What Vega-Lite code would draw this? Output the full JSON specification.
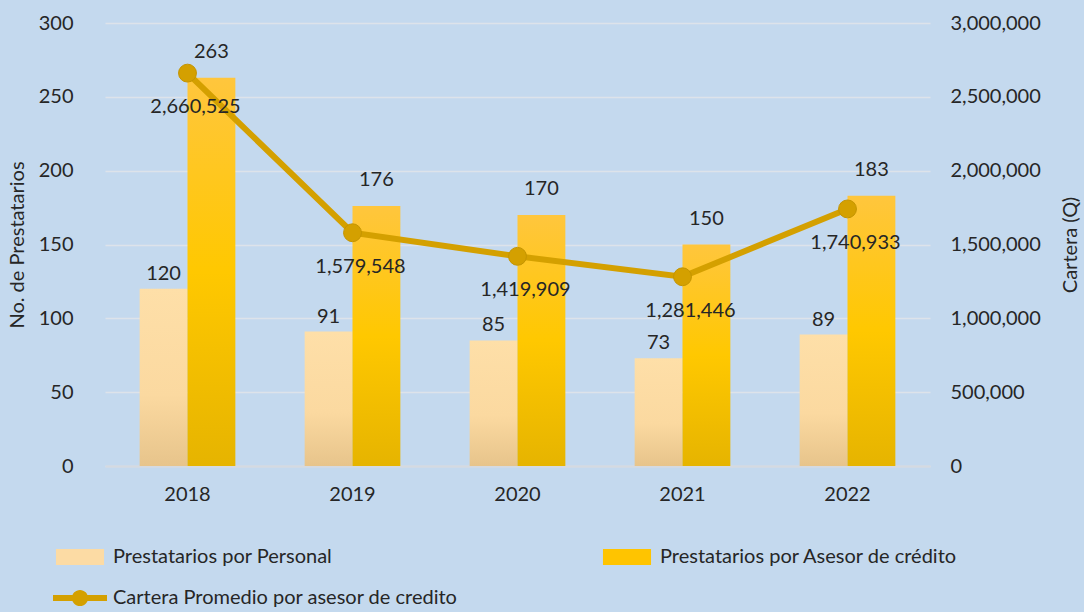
{
  "$schema": "https://vega.github.io/schema/vega-lite/v6.json",
  "width": 825,
  "height": 443,
  "autosize": "none",
  "padding": {"left": 105, "top": 23, "right": 154, "bottom": 146},
  "background": "#C4D9EE",
  "config": {
    "view": {"stroke": null},
    "font": "Lato",
    "axis": {"labelFont": "Lato", "titleFont": "Lato", "labelFontSize": 20, "titleFontSize": 20, "labelColor": "#262626", "titleColor": "#262626", "titleFontWeight": "normal"}
  },
  "data": {
    "values": [
      {"anio": "2018", "serie": "Prestatarios por Personal", "valor": 120},
      {"anio": "2019", "serie": "Prestatarios por Personal", "valor": 91},
      {"anio": "2020", "serie": "Prestatarios por Personal", "valor": 85},
      {"anio": "2021", "serie": "Prestatarios por Personal", "valor": 73},
      {"anio": "2022", "serie": "Prestatarios por Personal", "valor": 89},
      {"anio": "2018", "serie": "Prestatarios por Asesor de crédito", "valor": 263},
      {"anio": "2019", "serie": "Prestatarios por Asesor de crédito", "valor": 176},
      {"anio": "2020", "serie": "Prestatarios por Asesor de crédito", "valor": 170},
      {"anio": "2021", "serie": "Prestatarios por Asesor de crédito", "valor": 150},
      {"anio": "2022", "serie": "Prestatarios por Asesor de crédito", "valor": 183},
      {"anio": "2018", "serie": "Cartera Promedio por asesor de credito", "valor": 2660525},
      {"anio": "2019", "serie": "Cartera Promedio por asesor de credito", "valor": 1579548},
      {"anio": "2020", "serie": "Cartera Promedio por asesor de credito", "valor": 1419909},
      {"anio": "2021", "serie": "Cartera Promedio por asesor de credito", "valor": 1281446},
      {"anio": "2022", "serie": "Cartera Promedio por asesor de credito", "valor": 1740933}
    ]
  },
  "layer": [
    {
      "transform": [{"filter": "datum.serie !== 'Cartera Promedio por asesor de credito'"}],
      "encoding": {
        "x": {"field": "anio", "type": "nominal", "scale": {"paddingInner": 0.42, "paddingOuter": 0.21},
              "axis": {"title": null, "labelAngle": 0, "labelPadding": 18, "ticks": false, "tickSize": 0, "domainColor": "#D5DAE0", "domainWidth": 2}},
        "xOffset": {"field": "serie", "type": "nominal", "scale": {"domain": ["Prestatarios por Personal", "Prestatarios por Asesor de crédito"], "paddingInner": 0, "paddingOuter": 0}},
        "y": {"field": "valor", "type": "quantitative", "scale": {"domain": [0, 300]},
              "axis": {"title": "No. de Prestatarios", "values": [0, 50, 100, 150, 200, 250, 300], "domain": false, "ticks": false, "tickSize": 0, "labelPadding": 32, "titlePadding": 11, "grid": true, "gridColor": "#DDE3EA", "gridWidth": 1.5}}
      },
      "layer": [
        {
          "transform": [{"filter": "datum.serie === 'Prestatarios por Personal'"}],
          "mark": {"type": "bar", "fill": {"gradient": "linear", "x1": 0, "y1": 0, "x2": 0, "y2": 1, "stops": [{"offset": 0, "color": "#FEDFA8"}, {"offset": 0.6, "color": "#FBD9A0"}, {"offset": 1, "color": "#E7C48B"}]}}
        },
        {
          "transform": [{"filter": "datum.serie === 'Prestatarios por Asesor de crédito'"}],
          "mark": {"type": "bar", "fill": {"gradient": "linear", "x1": 0, "y1": 0, "x2": 0, "y2": 1, "stops": [{"offset": 0, "color": "#FFC63D"}, {"offset": 0.5, "color": "#FFC800"}, {"offset": 1, "color": "#E6B400"}]}}
        },
        {
          "transform": [{"filter": "datum.serie === 'Prestatarios por Personal'"}],
          "mark": {"type": "text", "baseline": "bottom", "dy": -5, "fontSize": 20, "font": "Lato", "color": "#262626"},
          "encoding": {"text": {"field": "valor", "type": "quantitative"}}
        },
        {
          "transform": [{"filter": "datum.serie === 'Prestatarios por Asesor de crédito'"}],
          "mark": {"type": "text", "baseline": "bottom", "dy": -16, "fontSize": 20, "font": "Lato", "color": "#262626"},
          "encoding": {"text": {"field": "valor", "type": "quantitative"}}
        }
      ]
    },
    {
      "transform": [{"filter": "datum.serie === 'Cartera Promedio por asesor de credito'"}],
      "encoding": {
        "x": {"field": "anio", "type": "nominal", "scale": {"paddingInner": 0.42, "paddingOuter": 0.21},
              "axis": {"title": null, "labelAngle": 0, "labelPadding": 18, "ticks": false, "tickSize": 0, "domainColor": "#D5DAE0", "domainWidth": 2}},
        "y": {"field": "valor", "type": "quantitative", "scale": {"domain": [0, 3000000]},
              "axis": {"orient": "right", "title": "Cartera (Q)", "titleAngle": -90, "format": ",.0f", "values": [0, 500000, 1000000, 1500000, 2000000, 2500000, 3000000], "domain": false, "ticks": false, "tickSize": 0, "labelPadding": 20, "titlePadding": 40, "grid": false}}
      },
      "layer": [
        {"mark": {"type": "line", "color": "#D4A000", "strokeWidth": 6}},
        {"mark": {"type": "point", "filled": true, "opacity": 1, "size": 320, "color": "#D4A000", "stroke": "#C49400", "strokeWidth": 1}},
        {
          "mark": {"type": "text", "baseline": "middle", "dx": 8, "dy": 34, "fontSize": 20, "font": "Lato", "color": "#262626"},
          "encoding": {"text": {"field": "valor", "type": "quantitative", "format": ",.0f"}}
        }
      ]
    },
    {
      "mark": {"type": "square", "opacity": 0},
      "encoding": {
        "color": {
          "field": "serie", "type": "nominal",
          "scale": {"domain": ["Prestatarios por Personal", "Prestatarios por Asesor de crédito", "Cartera Promedio por asesor de credito"], "range": ["#FCDBA4", "#FFC400", "#D4A000"]},
          "legend": {
            "title": null, "orient": "none", "direction": "horizontal", "legendX": -52, "legendY": 507, "columns": 2, "columnPadding": 142, "rowPadding": 4,
            "symbolSize": 2916, "labelFont": "Lato", "labelFontSize": 20, "labelColor": "#262626", "labelOffset": 6, "labelLimit": 600, "symbolOpacity": 1,
            "encode": {
              "symbols": {
                "update": {
                  "shape": {"signal": "datum.value === 'Cartera Promedio por asesor de credito' ? 'M-1,-0.11H1V0.11H-1Z M0.3,0A0.3,0.3,0,1,1,-0.3,0A0.3,0.3,0,1,1,0.3,0Z' : 'M-0.89,-0.3H0.89V0.3H-0.89Z'"},
                  "fill": {"scale": "color", "field": "value"},
                  "opacity": {"value": 1},
                  "strokeWidth": {"value": 0}
                }
              }
            }
          }
        }
      }
    }
  ],
  "resolve": {"scale": {"y": "independent"}}
}
